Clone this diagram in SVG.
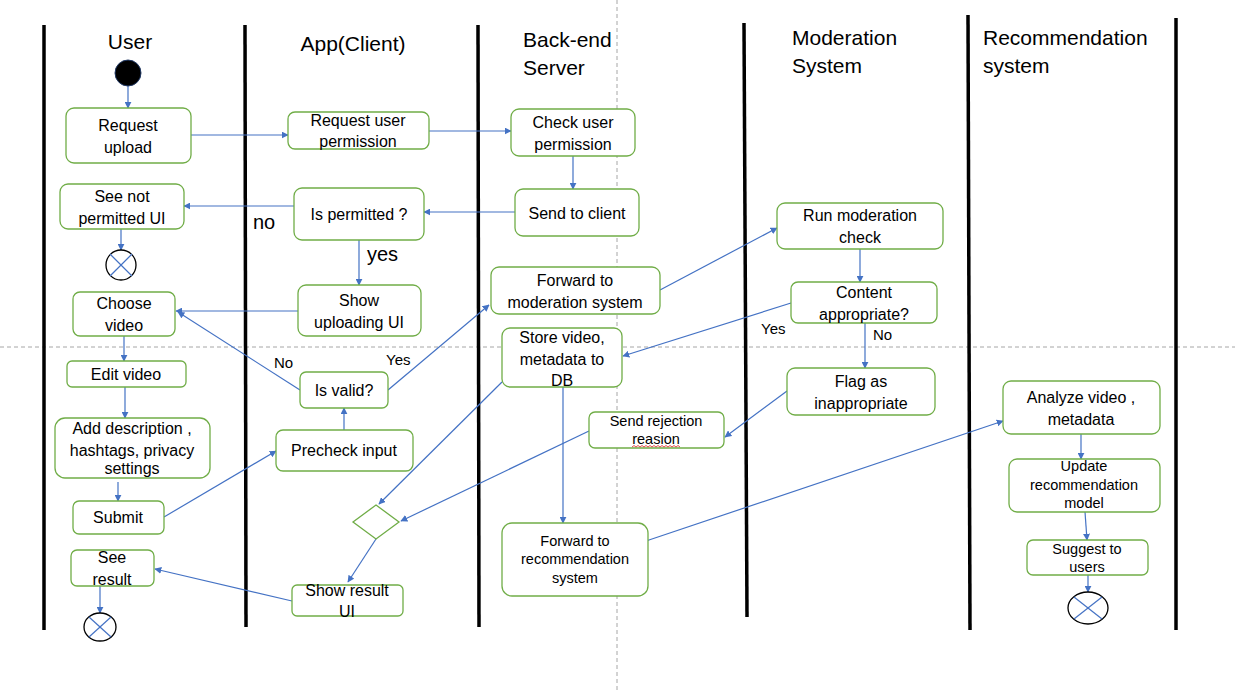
<svg xmlns="http://www.w3.org/2000/svg" width="1235" height="691" viewBox="0 0 1235 691">
<style>
.lane{stroke:#000;stroke-width:3.5;fill:none}
.grid{stroke:#a6a6a6;stroke-width:1;stroke-dasharray:4 3;fill:none}
.box{fill:#fff;stroke:#70AD47;stroke-width:1.3}
.t{font-family:"Liberation Sans",Arial,sans-serif;font-size:16px;fill:#000;text-anchor:middle}
.s{font-size:14.5px}
.h{font-family:"Liberation Sans",Arial,sans-serif;font-size:21px;fill:#000}
.lbl{font-family:"Liberation Sans",Arial,sans-serif;font-size:15px;fill:#000}
.c{stroke:#4472C4;stroke-width:1.2;fill:none;marker-end:url(#ah)}
.end{fill:#fff;stroke:#000;stroke-width:1.3}
.x{stroke:#4472C4;stroke-width:1.2}
</style>
<defs>
<marker id="ah" viewBox="0 0 10 10" refX="9" refY="5" markerWidth="7" markerHeight="7" orient="auto" markerUnits="userSpaceOnUse">
<path d="M0,0 L10,5 L0,10 z" fill="#4472C4"/>
</marker>
</defs>
<rect width="1235" height="691" fill="#fff"/>
<g id="grid">
<line class="grid" x1="0" y1="347" x2="1235" y2="347"/>
<line class="grid" x1="617" y1="0" x2="617" y2="691"/>
</g>
<g id="lanes">
<line class="lane" x1="44" y1="25" x2="44" y2="630"/>
<line class="lane" x1="245" y1="25" x2="246" y2="627"/>
<line class="lane" x1="478" y1="25" x2="479" y2="627"/>
<line class="lane" x1="744" y1="23" x2="747" y2="617"/>
<line class="lane" x1="968" y1="15" x2="970" y2="630"/>
<line class="lane" x1="1176" y1="18" x2="1176" y2="630"/>
<text class="h" x="130" y="49" text-anchor="middle">User</text>
<text class="h" x="353" y="51" text-anchor="middle">App(Client)</text>
<text class="h" x="523" y="47">Back-end</text>
<text class="h" x="523" y="75">Server</text>
<text class="h" x="792" y="45">Moderation</text>
<text class="h" x="792" y="73">System</text>
<text class="h" x="983" y="45">Recommendation</text>
<text class="h" x="983" y="73">system</text>
</g>
<g id="connectors">
<line class="c" x1="128" y1="86" x2="128" y2="108"/>
<line class="c" x1="191" y1="135" x2="288" y2="135"/>
<line class="c" x1="429" y1="131" x2="511" y2="131"/>
<line class="c" x1="573" y1="156" x2="573" y2="189"/>
<line class="c" x1="515" y1="212" x2="424" y2="212"/>
<line class="c" x1="294" y1="206" x2="184" y2="206"/>
<line class="c" x1="359" y1="240" x2="359" y2="285"/>
<line class="c" x1="121" y1="229" x2="121" y2="250"/>
<line class="c" x1="298" y1="311" x2="176" y2="311"/>
<line class="c" x1="124" y1="336" x2="124" y2="361"/>
<line class="c" x1="125" y1="387" x2="125" y2="418"/>
<line class="c" x1="118" y1="482" x2="118" y2="501"/>
<line class="c" x1="164" y1="517" x2="276" y2="451"/>
<line class="c" x1="344" y1="430" x2="344" y2="408"/>
<line class="c" x1="300" y1="390" x2="178" y2="312"/>
<line class="c" x1="388" y1="390" x2="489" y2="305"/>
<line class="c" x1="660" y1="290" x2="777" y2="228"/>
<line class="c" x1="860" y1="249" x2="860" y2="282"/>
<line class="c" x1="791" y1="303" x2="623" y2="356"/>
<line class="c" x1="865" y1="323" x2="865" y2="368"/>
<line class="c" x1="787" y1="391" x2="725" y2="437"/>
<line class="c" x1="563" y1="387" x2="563" y2="523"/>
<line class="c" x1="502" y1="382" x2="379" y2="504"/>
<line class="c" x1="589" y1="431" x2="401" y2="521"/>
<line class="c" x1="376" y1="539" x2="348" y2="582"/>
<line class="c" x1="292" y1="601" x2="155" y2="569"/>
<line class="c" x1="100" y1="586" x2="100" y2="613"/>
<line class="c" x1="646" y1="541" x2="1003" y2="421"/>
<line class="c" x1="1081" y1="434" x2="1081" y2="459"/>
<line class="c" x1="1085" y1="512" x2="1087" y2="540"/>
<line class="c" x1="1088" y1="575" x2="1088" y2="592"/>
<text class="lbl" x="253" y="229" style="font-size:20px">no</text>
<text class="lbl" x="367" y="261" style="font-size:20px">yes</text>
<text class="lbl" x="274" y="368">No</text>
<text class="lbl" x="386" y="365">Yes</text>
<text class="lbl" x="761" y="334">Yes</text>
<text class="lbl" x="873" y="340">No</text>
</g>
<g id="start"><circle cx="128" cy="73" r="13" fill="#000" stroke="#203864" stroke-width="1"/></g>
<g id="n-request-upload"><rect class="box" x="66" y="108" width="125" height="55" rx="8"/><text class="t" x="128" y="131">Request</text><text class="t" x="128" y="153">upload</text></g>
<g id="n-request-perm"><rect class="box" x="288" y="112" width="141" height="37" rx="7"/><text class="t" x="358" y="126">Request user</text><text class="t" x="358" y="147">permission</text></g>
<g id="n-check-perm"><rect class="box" x="511" y="109" width="124" height="47" rx="8"/><text class="t" x="573" y="128">Check user</text><text class="t" x="573" y="150">permission</text></g>
<g id="n-send-client"><rect class="box" x="515" y="189" width="124" height="47" rx="8"/><text class="t" x="577" y="219">Send to client</text></g>
<g id="n-is-permitted"><rect class="box" x="294" y="188" width="130" height="52" rx="8"/><text class="t" x="359" y="220">Is permitted ?</text></g>
<g id="n-not-permitted"><rect class="box" x="60" y="184" width="124" height="45" rx="8"/><text class="t" x="122" y="202">See not</text><text class="t" x="122" y="224">permitted UI</text></g>
<g id="end1"><circle class="end" cx="121" cy="265" r="15"/><line class="x" x1="110" y1="254" x2="132" y2="276"/><line class="x" x1="132" y1="254" x2="110" y2="276"/></g>
<g id="n-show-uploading"><rect class="box" x="298" y="285" width="123" height="51" rx="8"/><text class="t" x="359" y="306">Show</text><text class="t" x="359" y="328">uploading UI</text></g>
<g id="n-choose-video"><rect class="box" x="73" y="292" width="102" height="44" rx="7"/><text class="t" x="124" y="309">Choose</text><text class="t" x="124" y="331">video</text></g>
<g id="n-fwd-moderation"><rect class="box" x="491" y="267" width="169" height="47" rx="8"/><text class="t" x="575" y="286">Forward to</text><text class="t" x="575" y="308">moderation system</text></g>
<g id="n-run-moderation"><rect class="box" x="777" y="203" width="166" height="46" rx="8"/><text class="t" x="860" y="221">Run moderation</text><text class="t" x="860" y="243">check</text></g>
<g id="n-content-ok"><rect class="box" x="791" y="282" width="146" height="41" rx="7"/><text class="t" x="864" y="298">Content</text><text class="t" x="864" y="320">appropriate?</text></g>
<g id="n-store-video"><rect class="box" x="502" y="328" width="120" height="59" rx="8"/><text class="t" x="562" y="343">Store video,</text><text class="t" x="562" y="365">metadata  to</text><text class="t" x="562" y="386">DB</text></g>
<g id="n-flag"><rect class="box" x="787" y="368" width="148" height="47" rx="8"/><text class="t" x="861" y="387">Flag as</text><text class="t" x="861" y="409">inappropriate</text></g>
<g id="n-send-rejection"><rect class="box" x="589" y="412" width="135" height="36" rx="6"/><text class="t s" x="656" y="426">Send rejection</text><text class="t s" x="656" y="444">reasion</text><path d="M632,447 l2,-1.5 l2,1.5 l2,-1.5 l2,1.5 l2,-1.5 l2,1.5 l2,-1.5 l2,1.5 l2,-1.5 l2,1.5 l2,-1.5 l2,1.5 l2,-1.5 l2,1.5 l2,-1.5 l2,1.5 l2,-1.5 l2,1.5 l2,-1.5 l2,1.5 l2,-1.5 l2,1.5 l2,-1.5 l2,1.5" fill="none" stroke="#e02020" stroke-width="0.8"/></g>
<g id="n-fwd-recommendation"><rect class="box" x="502" y="523" width="146" height="73" rx="10"/><text class="t s" x="575" y="546">Forward to</text><text class="t s" x="575" y="564">recommendation</text><text class="t s" x="575" y="583">system</text></g>
<g id="n-edit-video"><rect class="box" x="67" y="361" width="119" height="26" rx="5"/><text class="t" x="126" y="380">Edit video</text></g>
<g id="n-add-desc"><rect class="box" x="55" y="418" width="155" height="60" rx="10"/><text class="t" x="132" y="434">Add description ,</text><text class="t" x="132" y="456">hashtags, privacy</text><text class="t" x="132" y="474">settings</text></g>
<g id="n-submit"><rect class="box" x="73" y="501" width="91" height="33" rx="6"/><text class="t" x="118" y="523">Submit</text></g>
<g id="n-see-result"><rect class="box" x="71" y="550" width="83" height="36" rx="6"/><text class="t" x="112" y="563">See</text><text class="t" x="112" y="585">result</text></g>
<g id="end2"><ellipse class="end" cx="100" cy="627" rx="16" ry="14"/><line class="x" x1="89" y1="617" x2="111" y2="637"/><line class="x" x1="111" y1="617" x2="89" y2="637"/></g>
<g id="n-is-valid"><rect class="box" x="300" y="372" width="88" height="36" rx="6"/><text class="t" x="344" y="396">Is valid?</text></g>
<g id="n-precheck"><rect class="box" x="276" y="430" width="137" height="41" rx="7"/><text class="t" x="344" y="456">Precheck input</text></g>
<g id="n-merge"><polygon points="376,505 399,522 376,539 353,522" fill="#fff" stroke="#70AD47" stroke-width="1.3"/></g>
<g id="n-show-result"><rect class="box" x="292" y="585" width="111" height="31" rx="5"/><text class="t" x="347" y="596">Show result</text><text class="t" x="347" y="617">UI</text></g>
<g id="n-analyze"><rect class="box" x="1003" y="381" width="157" height="53" rx="8"/><text class="t" x="1081" y="403">Analyze video ,</text><text class="t" x="1081" y="425">metadata</text></g>
<g id="n-update-model"><rect class="box" x="1009" y="459" width="151" height="53" rx="8"/><text class="t s" x="1084" y="471">Update</text><text class="t s" x="1084" y="490">recommendation</text><text class="t s" x="1084" y="508">model</text></g>
<g id="n-suggest"><rect class="box" x="1027" y="540" width="121" height="35" rx="6"/><text class="t s" x="1087" y="554">Suggest to</text><text class="t s" x="1087" y="572">users</text></g>
<g id="end3"><ellipse class="end" cx="1088" cy="608" rx="20" ry="16"/><line class="x" x1="1074" y1="597" x2="1102" y2="619"/><line class="x" x1="1102" y1="597" x2="1074" y2="619"/></g>
</svg>
